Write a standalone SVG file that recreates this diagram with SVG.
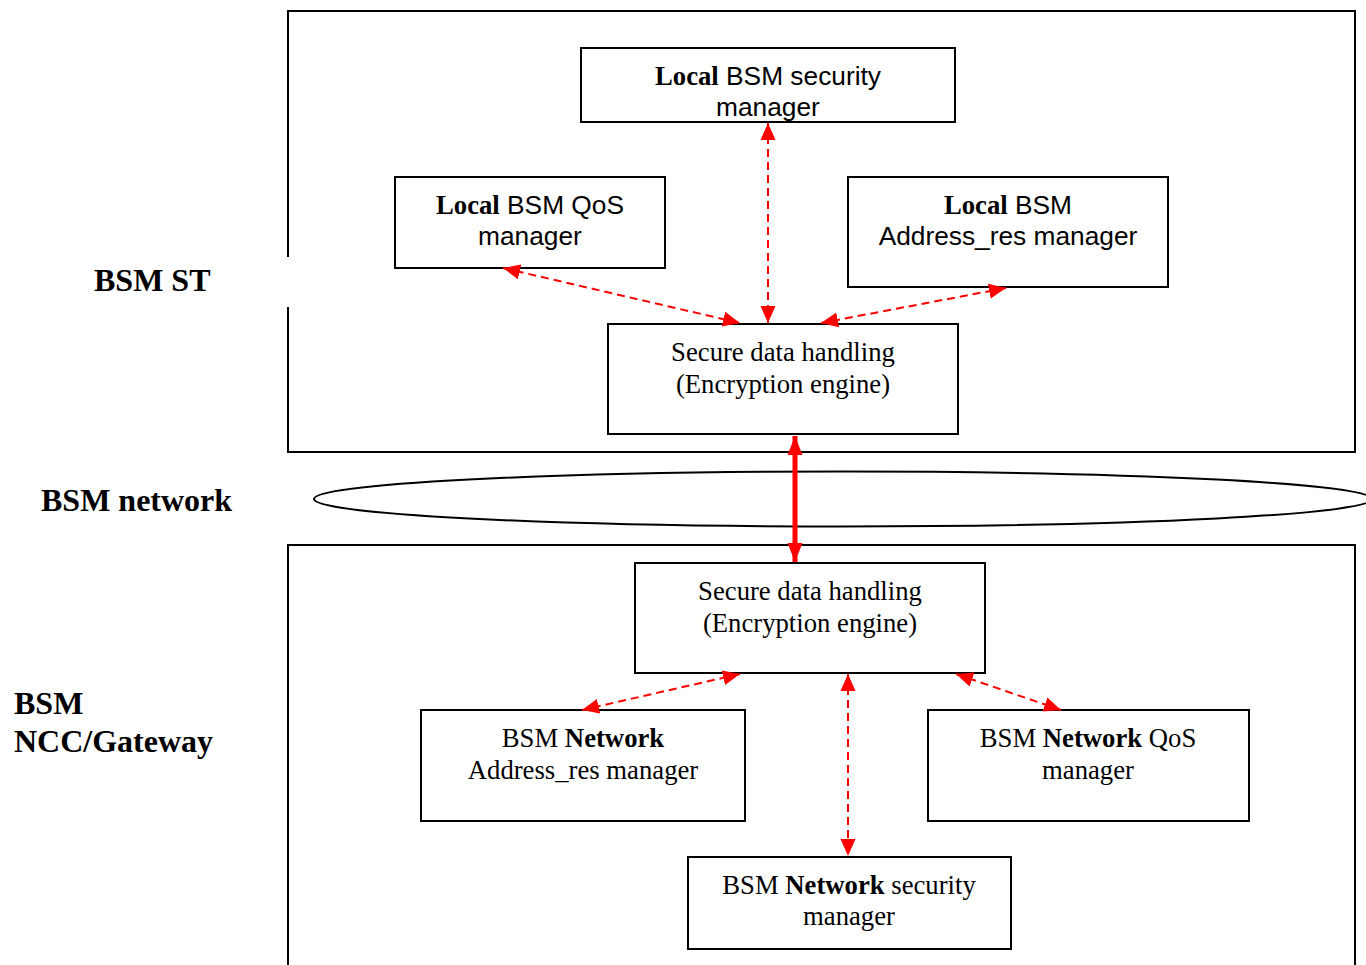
<svg xmlns="http://www.w3.org/2000/svg" width="1366" height="965" viewBox="0 0 1366 965">
  <style>
    .frame { fill: none; stroke: #000; stroke-width: 2; }
    .box { fill: #fff; stroke: #000; stroke-width: 2; }
    .serif { font-family: "Liberation Serif", "Times New Roman", serif; font-size: 26.7px; fill: #000; }
    .sans { font-family: "Liberation Sans", Arial, sans-serif; font-size: 26.3px; fill: #000; }
    .b { font-weight: bold; font-family: "Liberation Serif", "Times New Roman", serif; font-size: 26.7px; }
    .label { font-family: "Liberation Serif", "Times New Roman", serif; font-size: 32px; font-weight: bold; fill: #000; }
    .dash { fill: none; stroke: #ff0000; stroke-width: 2; stroke-dasharray: 8 5; }
    .thick { fill: none; stroke: #ff0000; stroke-width: 5; }
  </style>
  <defs>
    <marker id="head" markerUnits="userSpaceOnUse" markerWidth="18" markerHeight="18" viewBox="0 0 18 18" refX="17" refY="9" orient="auto-start-reverse">
      <path d="M0,1.5 L17,9 L0,16.5 Z" fill="#ff0000"/>
    </marker>
    <marker id="headBig" markerUnits="userSpaceOnUse" markerWidth="20" markerHeight="18" viewBox="0 0 20 18" refX="19" refY="9" orient="auto-start-reverse">
      <path d="M0,1.5 L19,9 L0,16.5 Z" fill="#ff0000"/>
    </marker>
  </defs>

  <rect width="1366" height="965" fill="#fff"/>

  <!-- zone frames and network ellipse -->
  <g id="zones">
    <path class="frame" d="M288,257 V11 H1355 V452 H288 V307"/>
    <path class="frame" d="M288,966 V545 H1355 V966"/>
    <ellipse class="frame" cx="843" cy="499" rx="529" ry="27.5"/>
  </g>

  <!-- zone labels -->
  <g id="labels">
    <text class="label" x="94" y="291">BSM ST</text>
    <text class="label" x="41" y="511">BSM network</text>
    <text class="label" x="14" y="714">BSM</text>
    <text class="label" x="14" y="752">NCC/Gateway</text>
  </g>

  <!-- terminal side -->
  <g id="local-security">
    <rect class="box" x="581" y="48" width="374" height="74"/>
    <text class="sans" x="768" y="85" text-anchor="middle"><tspan class="b">Local</tspan> BSM security</text>
    <text class="sans" x="768" y="116" text-anchor="middle">manager</text>
  </g>
  <g id="local-qos">
    <rect class="box" x="395" y="177" width="270" height="91"/>
    <text class="sans" x="530" y="214" text-anchor="middle"><tspan class="b">Local</tspan> BSM QoS</text>
    <text class="sans" x="530" y="245" text-anchor="middle">manager</text>
  </g>
  <g id="local-address">
    <rect class="box" x="848" y="177" width="320" height="110"/>
    <text class="sans" x="1008" y="214" text-anchor="middle"><tspan class="b">Local</tspan> BSM</text>
    <text class="sans" x="1008" y="245" text-anchor="middle">Address_res manager</text>
  </g>
  <g id="st-secure-data">
    <rect class="box" x="608" y="324" width="350" height="110"/>
    <text class="serif" x="783" y="361" text-anchor="middle">Secure data handling</text>
    <text class="serif" x="783" y="393" text-anchor="middle">(Encryption engine)</text>
  </g>

  <!-- gateway side -->
  <g id="gw-secure-data">
    <rect class="box" x="635" y="563" width="350" height="110"/>
    <text class="serif" x="810" y="600" text-anchor="middle">Secure data handling</text>
    <text class="serif" x="810" y="632" text-anchor="middle">(Encryption engine)</text>
  </g>
  <g id="net-address">
    <rect class="box" x="421" y="710" width="324" height="111"/>
    <text class="serif" x="583" y="747" text-anchor="middle">BSM <tspan font-weight="bold">Network</tspan></text>
    <text class="serif" x="583" y="779" text-anchor="middle">Address_res manager</text>
  </g>
  <g id="net-qos">
    <rect class="box" x="928" y="710" width="321" height="111"/>
    <text class="serif" x="1088" y="747" text-anchor="middle">BSM <tspan font-weight="bold">Network</tspan> QoS</text>
    <text class="serif" x="1088" y="779" text-anchor="middle">manager</text>
  </g>
  <g id="net-security">
    <rect class="box" x="688" y="857" width="323" height="92"/>
    <text class="serif" x="849" y="894" text-anchor="middle">BSM <tspan font-weight="bold">Network</tspan> security</text>
    <text class="serif" x="849" y="925" text-anchor="middle">manager</text>
  </g>

  <!-- connectors -->
  <g id="connectors">
    <path class="dash" d="M768,123 L768,323" marker-start="url(#head)" marker-end="url(#head)"/>
    <path class="dash" d="M503,268 L740,323" marker-start="url(#head)" marker-end="url(#head)"/>
    <path class="dash" d="M1006,288 L821,323" marker-start="url(#head)" marker-end="url(#head)"/>
    <path class="thick" d="M795,436 L795,562" marker-start="url(#headBig)" marker-end="url(#headBig)"/>
    <path class="dash" d="M740,674 L582,710" marker-start="url(#head)" marker-end="url(#head)"/>
    <path class="dash" d="M848,674 L848,856" marker-start="url(#head)" marker-end="url(#head)"/>
    <path class="dash" d="M956,674 L1061,710" marker-start="url(#head)" marker-end="url(#head)"/>
  </g>
</svg>
